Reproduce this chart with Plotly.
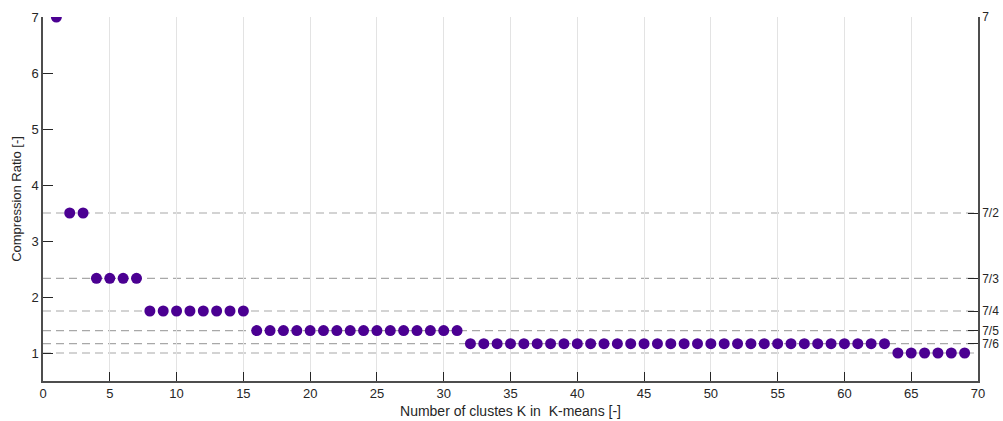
import plotly.graph_objects as go

# Number of clusters K used in K-means
clusters = list(range(1, 70))

# Compression ratio obtained for each K (7 bits / bits needed per index)
ratio = [
    7.0,
    3.5, 3.5,
    2.3333, 2.3333, 2.3333, 2.3333,
    1.75, 1.75, 1.75, 1.75, 1.75, 1.75, 1.75, 1.75,
    1.4, 1.4, 1.4, 1.4, 1.4, 1.4, 1.4, 1.4,
    1.4, 1.4, 1.4, 1.4, 1.4, 1.4, 1.4, 1.4,
    1.1667, 1.1667, 1.1667, 1.1667, 1.1667, 1.1667, 1.1667, 1.1667,
    1.1667, 1.1667, 1.1667, 1.1667, 1.1667, 1.1667, 1.1667, 1.1667,
    1.1667, 1.1667, 1.1667, 1.1667, 1.1667, 1.1667, 1.1667, 1.1667,
    1.1667, 1.1667, 1.1667, 1.1667, 1.1667, 1.1667, 1.1667, 1.1667,
    1.0, 1.0, 1.0, 1.0, 1.0, 1.0,
]

# Reference levels (dashed) and right-axis fraction labels
levels = [3.5, 2.3333, 1.75, 1.4, 1.1667, 1.0]
right_ticks = [7.0, 3.5, 2.3333, 1.75, 1.4, 1.1667]
right_labels = ["7", "7/2", "7/3", "7/4", "7/5", "7/6"]

FONT = "Liberation Sans, Arial, sans-serif"
PURPLE = "#4b0092"
AXIS = "#4d4d4d"
TXT = "#262626"

fig = go.Figure()

fig.add_trace(go.Scatter(
    x=clusters, y=ratio, mode="markers",
    marker=dict(color=PURPLE, size=11, line=dict(width=0)),
    showlegend=False,
))
# same points on the secondary axis so it is drawn
fig.add_trace(go.Scatter(
    x=clusters, y=ratio, mode="markers", yaxis="y2",
    marker=dict(color=PURPLE, size=11, opacity=0),
    showlegend=False, hoverinfo="skip",
))

for lv in levels:
    fig.add_shape(
        type="line", xref="x", yref="y", x0=0, x1=70, y0=lv, y1=lv,
        line=dict(color="#a8a8a8", width=1.2, dash="8px,5px"),
        layer="below",
    )

fig.update_layout(
    width=1003, height=421,
    margin=dict(l=43, r=25, t=17, b=40),
    paper_bgcolor="white", plot_bgcolor="white",
    font=dict(family=FONT, size=13, color=TXT),
    xaxis=dict(
        range=[0, 70], dtick=5, tick0=0, automargin=False,
        showgrid=True, gridcolor="#e3e3e3", gridwidth=1,
        zeroline=False,
        showline=True, linecolor=AXIS, linewidth=1.5,
        ticks="inside", ticklen=9, tickcolor=TXT, tickwidth=1,
        tickfont=dict(size=13, color=TXT),
        title=dict(text="Number of clustes K in&nbsp; K-means [-]",
                   font=dict(size=14, color=TXT), standoff=6),
    ),
    yaxis=dict(
        range=[0.5, 7], tickvals=[1, 2, 3, 4, 5, 6, 7], automargin=False,
        showgrid=False, zeroline=False,
        showline=True, linecolor=AXIS, linewidth=1.5,
        ticks="inside", ticklen=10, tickcolor=TXT, tickwidth=1,
        tickfont=dict(size=13, color=TXT),
        title=dict(text="Compression Ratio [-]",
                   font=dict(size=13, color=TXT), standoff=7),
    ),
    yaxis2=dict(
        range=[0.5, 7], overlaying="y", side="right", automargin=False,
        tickvals=right_ticks, ticktext=right_labels,
        showgrid=False, zeroline=False,
        showline=True, linecolor=AXIS, linewidth=1.5,
        ticks="inside", ticklen=10, tickcolor=TXT, tickwidth=1,
        tickfont=dict(size=12, color=TXT),
    ),
)

fig.write_html("out.html")
